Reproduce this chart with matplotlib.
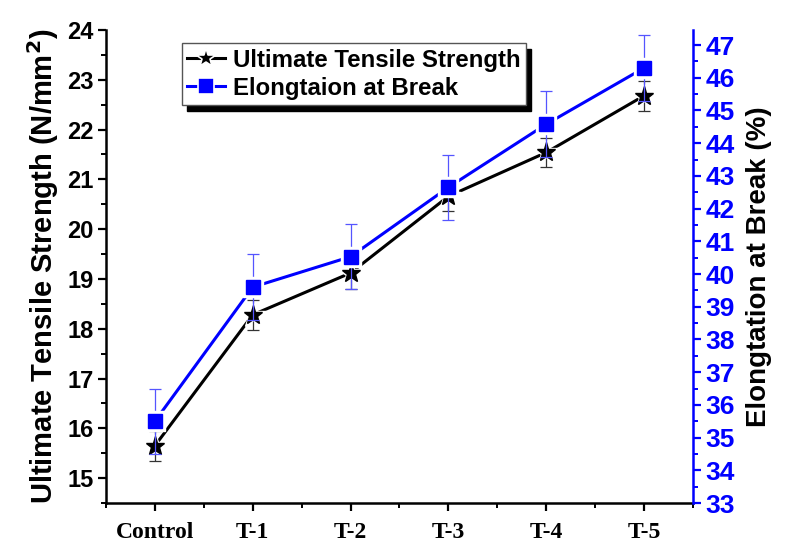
import matplotlib.pyplot as plt
from matplotlib.lines import Line2D
from matplotlib.ticker import MultipleLocator, FixedLocator

samples = ['Control', 'T-1', 'T-2', 'T-3', 'T-4', 'T-5']
uts = [15.65, 18.28, 19.12, 20.66, 21.54, 22.68]
uts_err = [0.3, 0.3, 0.32, 0.3, 0.3, 0.3]
elong = [35.5, 39.6, 40.53, 42.65, 44.58, 46.3]
elong_err = [1.0, 1.0, 1.0, 1.0, 1.0, 1.0]

blue = '#0000ff'
sans = 'Liberation Sans'

fig = plt.figure(figsize=(7.89, 5.45), dpi=100)
ax = fig.add_axes([0.1343, 0.077, 0.7440, 0.868])
ax2 = ax.twinx()
x = list(range(len(samples)))

# error bars first, thin
ax.errorbar(x, uts, yerr=uts_err, fmt='none', ecolor='#333333', elinewidth=0.9,
            capsize=4, capthick=0.9, zorder=1)
ax2.errorbar(x, elong, yerr=elong_err, fmt='none', ecolor='#5555ff', elinewidth=0.9,
             capsize=4, capthick=0.9, zorder=1)

# lines, then a white halo under each marker so the line stops short of it
ax.plot(x, uts, color='black', lw=2.2, zorder=2)
ax.plot(x, uts, ls='none', marker='*', ms=19, color='white', zorder=3)
ax.plot(x, uts, ls='none', marker='*', ms=14, color='black', zorder=4)
ax2.plot(x, elong, color=blue, lw=2.2, zorder=2)
ax2.plot(x, elong, ls='none', marker='s', ms=14, color='white', zorder=3)
ax2.plot(x, elong, ls='none', marker='s', ms=10, color=blue, zorder=4)

ax.set_xlim(-0.5, 5.5)
ax.set_ylim(14.5, 24)
ax2.set_ylim(33, 47.46)

ax.set_xticks(x)
ax.set_xticklabels(samples, fontfamily='Liberation Serif', fontweight='bold', fontsize=17)
ax.xaxis.set_minor_locator(FixedLocator([-0.5, 0.5, 1.5, 2.5, 3.5, 4.5, 5.5]))
ax.yaxis.set_minor_locator(MultipleLocator(0.5))
ax2.yaxis.set_minor_locator(MultipleLocator(0.5))
ax.set_yticks(range(15, 25))
ax2.set_yticks(range(33, 48))

for lab in ax.get_yticklabels():
    lab.set_fontfamily(sans)
    lab.set_fontweight('bold')
    lab.set_fontsize(17)
for lab in ax2.get_yticklabels():
    lab.set_fontfamily(sans)
    lab.set_fontweight('bold')
    lab.set_fontsize(19)
    lab.set_color(blue)

ax.tick_params(axis='both', which='major', direction='out', length=6, width=1.6)
ax.tick_params(axis='both', which='minor', direction='out', length=3.5, width=1.4)
ax.tick_params(axis='x', pad=8)
ax.tick_params(axis='y', pad=3)
ax2.tick_params(axis='y', which='major', direction='out', length=6, width=1.6,
                color=blue, pad=3)
ax2.tick_params(axis='y', which='minor', direction='out', length=3.5, width=1.4, color=blue)

for a in (ax, ax2):
    a.spines['top'].set_visible(False)
    for s in a.spines.values():
        s.set_linewidth(1.8)
ax.spines['right'].set_visible(False)
ax2.spines['left'].set_visible(False)
ax2.spines['bottom'].set_visible(False)
ax2.spines['right'].set_color(blue)

ax.set_ylabel('Ultimate Tensile Strength (N/mm$^\\mathbf{2}$)', fontfamily=sans,
              fontweight='bold', fontsize=21, labelpad=4)
ax2.set_ylabel('Elongtation at Break (%)', fontfamily=sans, fontweight='bold',
               fontsize=20, rotation=90, labelpad=8)

handles = [
    Line2D([], [], color='black', lw=2.2, marker='*', ms=15, mec='white', mew=1.2),
    Line2D([], [], color=blue, lw=2.2, marker='s', ms=11, mec='white', mew=1.2),
]
leg = ax.legend(handles, ['Ultimate Tensile Strength', 'Elongtaion at Break'],
                loc='upper left', bbox_to_anchor=(0.129, 0.972), borderaxespad=0,
                prop={'family': sans, 'weight': 'bold', 'size': 17.3},
                fancybox=False, framealpha=1, edgecolor='#555555',
                handlelength=1.6, handletextpad=0.3, labelspacing=0.22, borderpad=0.22,
                shadow={'ox': 4, 'oy': -4, 'color': 'black', 'alpha': 1})
leg.get_frame().set_linewidth(1.0)
leg.set_zorder(10)

fig.savefig('out.png', dpi=100)
